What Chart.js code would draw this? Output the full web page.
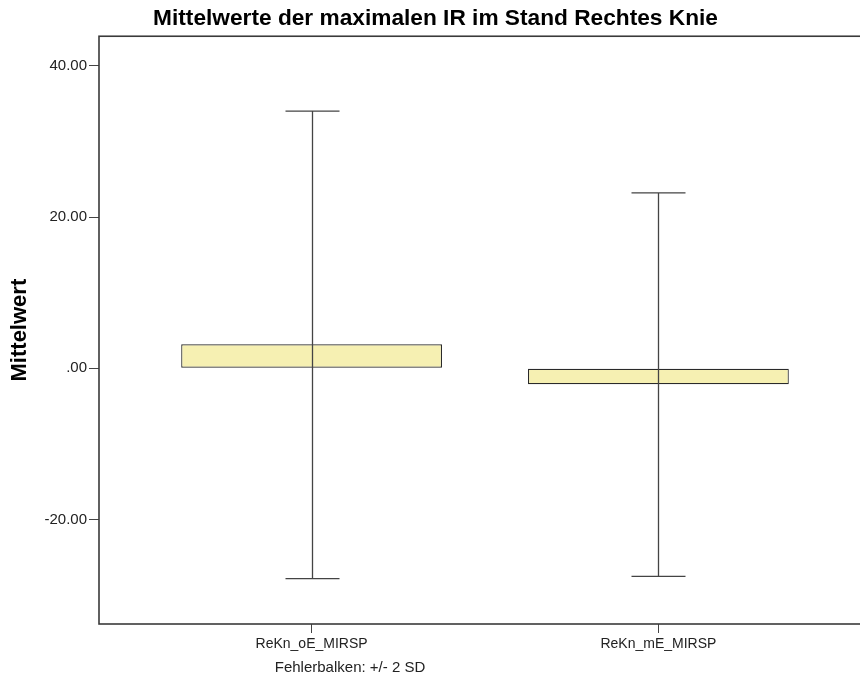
<!DOCTYPE html>
<html>
<head>
<meta charset="utf-8">
<script src="https://cdn.jsdelivr.net/npm/chart.js@4.4.1/dist/chart.umd.min.js"></script>
<style>
  html, body { margin: 0; padding: 0; background: #fff; overflow: hidden; }
</style>
</head>
<body>
<canvas id="myChart" width="876" height="686"></canvas>
<script>
  // data
  var categories = ['ReKn_oE_MIRSP', 'ReKn_mE_MIRSP'];
  var means = [3.17, -2.1];
  var errLow = [-27.8, -27.5];
  var errHigh = [34.0, 23.2];
  var yTicks = [-20, 0, 20, 40];

  var points = categories.map(function (c, i) { return { x: i, y: means[i] }; });

  // error bars on top of the bars
  var errorBars = {
    id: 'errorBars',
    afterDatasetsDraw: function (chart) {
      var ctx = chart.ctx;
      var xs = chart.scales.x, ys = chart.scales.y;
      ctx.save();
      ctx.strokeStyle = '#444';
      ctx.lineWidth = 1.3;
      for (var i = 0; i < categories.length; i++) {
        var x = Math.round(xs.getPixelForValue(i)) + 0.5;
        var y1 = ys.getPixelForValue(errHigh[i]);
        var y2 = ys.getPixelForValue(errLow[i]);
        ctx.beginPath();
        ctx.moveTo(x, y1); ctx.lineTo(x, y2);
        ctx.moveTo(x - 27, y1); ctx.lineTo(x + 27, y1);
        ctx.moveTo(x - 27, y2); ctx.lineTo(x + 27, y2);
        ctx.stroke();
      }
      ctx.restore();
    }
  };

  // frame + footnote
  var frame = {
    id: 'frame',
    afterDraw: function (chart) {
      var ctx = chart.ctx, a = chart.chartArea;
      ctx.save();
      ctx.strokeStyle = '#3a3a3a';
      ctx.lineWidth = 1.6;
      ctx.strokeRect(a.left, a.top, a.right - a.left, a.bottom - a.top);
      ctx.fillStyle = '#222';
      ctx.font = '15px "Liberation Sans", Arial, sans-serif';
      ctx.textAlign = 'center';
      ctx.textBaseline = 'middle';
      ctx.fillText('Fehlerbalken: +/- 2 SD', 350, 668);
      ctx.restore();
    }
  };

  var config = {
    type: 'bar',
    data: {
      datasets: [{
        data: points,
        backgroundColor: '#f6f0b2',
        borderColor: '#2a2a2a',
        borderWidth: 1.2,
        borderSkipped: false,
        barPercentage: 0.752,
        categoryPercentage: 1
      }]
    },
    options: {
      responsive: false,
      animation: false,
      layout: { padding: { left: 0, right: 5, top: 0, bottom: 0 } },
      plugins: {
        legend: { display: false },
        tooltip: { enabled: false },
        title: {
          display: true,
          text: 'Mittelwerte der maximalen IR im Stand Rechtes Knie',
          color: '#000',
          font: { family: '"Liberation Sans", Arial, sans-serif', size: 22.7, weight: 'bold', lineHeight: 1.2 },
          padding: { top: 5, bottom: 4 }
        }
      },
      scales: {
        x: {
          type: 'linear',
          offset: false,
          min: -0.613,
          max: 1.613,
          afterBuildTicks: function (scale) {
            scale.ticks = categories.map(function (c, i) { return { value: i }; });
          },
          afterFit: function (scale) { scale.height = 62; },
          grid: { display: true, offset: false, drawOnChartArea: false, drawTicks: true, tickLength: 9, color: '#444' },
          border: { display: false },
          ticks: {
            autoSkip: false,
            maxRotation: 0,
            padding: 3,
            color: '#222',
            font: { family: '"Liberation Sans", Arial, sans-serif', size: 14 },
            callback: function (v) { return categories[v]; }
          }
        },
        y: {
          min: -33.8,
          max: 43.9,
          afterBuildTicks: function (scale) {
            scale.ticks = yTicks.map(function (v) { return { value: v }; });
          },
          afterFit: function (scale) { scale.width = 99; },
          grid: { display: true, drawOnChartArea: false, drawTicks: true, tickLength: 10, color: '#444' },
          border: { display: false },
          title: {
            display: true,
            text: 'Mittelwert',
            color: '#000',
            font: { family: '"Liberation Sans", Arial, sans-serif', size: 22, weight: 'bold' },
            padding: { top: 7, bottom: 0 }
          },
          ticks: {
            padding: 2,
            color: '#222',
            font: { family: '"Liberation Sans", Arial, sans-serif', size: 15 },
            callback: function (v) { return v === 0 ? '.00' : v.toFixed(2); }
          }
        }
      }
    },
    plugins: [errorBars, frame]
  };

  var myChart = new Chart(document.getElementById('myChart'), config);
</script>
</body>
</html>
